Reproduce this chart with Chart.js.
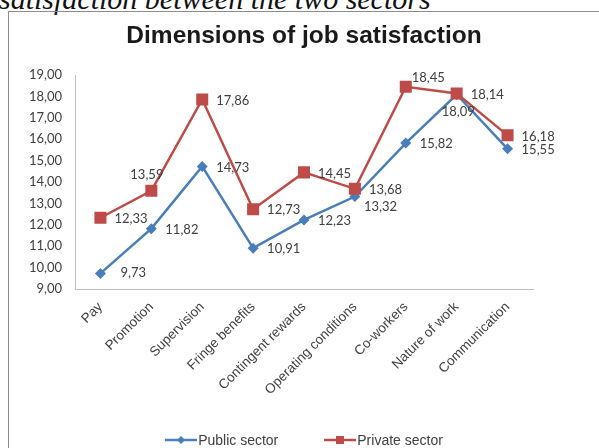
<!DOCTYPE html>
<html>
<head>
<meta charset="utf-8">
<title>Dimensions of job satisfaction</title>
<script src="https://cdn.jsdelivr.net/npm/chart.js@4.4.1/dist/chart.umd.min.js"></script>
<style>
    html, body { margin: 0; padding: 0; background: #fff; overflow: hidden; }
    body { width: 599px; height: 448px; position: relative; }
    .caption {
        position: absolute; left: -1px; top: -16px;
        font: italic 30px/30px 'Liberation Serif', 'Times New Roman', serif;
        color: #111; white-space: nowrap;
    }
    .frame {
        position: absolute; left: 8px; top: 11px; width: 620px; height: 460px;
        border-left: 1px solid #8c8c8c; border-top: 1px solid #8c8c8c;
    }
    #chart { position: absolute; left: 9px; top: 12px; }
    #legend {
        position: absolute; left: 9px; width: 590px; top: 431px; height: 18px;
        display: flex; justify-content: center; align-items: center;
        font: 14px/18px 'Liberation Sans', Arial, sans-serif; color: #404040;
    }
    #legend .item { display: flex; align-items: center; margin: 0 23px; white-space: nowrap; }
    #legend canvas { margin-right: 1px; }
</style>
</head>
<body>
<div class="caption">satisfaction between the two sectors</div>
<div class="frame"></div>
<canvas id="chart" width="590" height="436"></canvas>
<div id="legend"></div>

<script>
// values
const categories = ["Pay", "Promotion", "Supervision", "Fringe benefits", "Contingent rewards",
    "Operating conditions", "Co-workers", "Nature of work", "Communication"];
const publicSector = [9.73, 11.82, 14.73, 10.91, 12.23, 13.32, 15.82, 18.09, 15.55];
const privateSector = [12.33, 13.59, 17.86, 12.73, 14.45, 13.68, 18.45, 18.14, 16.18];
const yTicks = [9, 10, 11, 12, 13, 14, 15, 16, 17, 18, 19];

const blue = '#4a7ebb';
const red = '#be4b48';

// where a value label sits away from its default spot (right of the point)
const publicNudge = { 0: [20, -1], 5: [9, 10], 7: [-15, 17] };
const privateNudge = { 1: [-21, -16], 6: [6, -9] };

function fmt(v) {
    return v.toFixed(2).replace('.', ',');
}

function legendIcon(color, shape) {
    let c = document.createElement('canvas');
    c.width = 32;
    c.height = 12;
    let ctx = c.getContext('2d');
    ctx.strokeStyle = color;
    ctx.fillStyle = color;
    ctx.lineWidth = 2.5;
    ctx.beginPath();
    ctx.moveTo(0, 6);
    ctx.lineTo(32, 6);
    ctx.stroke();
    if (shape === 'rectRot') {
        ctx.beginPath();
        ctx.moveTo(16, 2);
        ctx.lineTo(20, 6);
        ctx.lineTo(16, 10);
        ctx.lineTo(12, 6);
        ctx.closePath();
        ctx.fill();
    } else {
        ctx.fillRect(12, 2, 8, 8);
    }
    return c;
}

const valueLabels = {
    id: 'valueLabels',
    afterDatasetsDraw: function (chart) {
        let ctx = chart.ctx;
        ctx.save();
        ctx.font = "13px Lato, 'Open Sans', sans-serif";
        ctx.fillStyle = '#404040';
        ctx.textAlign = 'left';
        ctx.textBaseline = 'middle';
        chart.data.datasets.forEach(function (ds, i) {
            let meta = chart.getDatasetMeta(i);
            let nudge = ds.nudge || {};
            meta.data.forEach(function (pt, j) {
                let off = nudge[j] || [14, 1];
                ctx.fillText(fmt(ds.data[j]), pt.x + off[0], pt.y + off[1]);
            });
        });
        ctx.restore();
    }
};

Chart.defaults.font.family = "'Liberation Sans', Arial, sans-serif";
Chart.defaults.color = '#404040';

let chartJob = new Chart(document.getElementById('chart'), {
    type: 'line',
    data: {
        labels: categories,
        datasets: [
            {
                label: 'Public sector',
                data: publicSector,
                borderColor: blue,
                backgroundColor: blue,
                borderWidth: 2.5,
                pointStyle: 'rectRot',
                pointRadius: 5.5,
                pointBorderWidth: 0,
                order: 1,
                nudge: publicNudge
            },
            {
                label: 'Private sector',
                data: privateSector,
                borderColor: red,
                backgroundColor: red,
                borderWidth: 2.5,
                pointStyle: 'rect',
                pointRadius: 8.5,
                pointBorderWidth: 0,
                order: 0,
                nudge: privateNudge
            }
        ]
    },
    options: {
        responsive: false,
        animation: false,
        layout: { padding: 0 },
        plugins: {
            tooltip: { enabled: false },
            legend: { display: false },
            title: {
                display: true,
                text: 'Dimensions of job satisfaction',
                color: '#1a1a1a',
                font: { size: 24.5, weight: 'bold' },
                padding: { top: 10, bottom: 23.6 }
            }
        },
        scales: {
            x: {
                offset: true,
                grid: { display: false, drawTicks: false },
                border: { display: true, color: '#bfbfbf', width: 1 },
                ticks: {
                    minRotation: 45,
                    maxRotation: 45,
                    autoSkip: false,
                    padding: 10,
                    font: { size: 13.5 },
                    color: '#404040'
                },
                afterFit: function (scale) {
                    scale.height = 159;
                }
            },
            y: {
                min: 9,
                max: 19,
                grid: { display: false, drawTicks: false },
                border: { display: true, color: '#bfbfbf', width: 1 },
                afterBuildTicks: function (scale) {
                    scale.ticks = yTicks.map(function (v) { return { value: v }; });
                },
                ticks: {
                    autoSkip: false,
                    padding: 13,
                    font: { size: 13, family: "Lato, 'Open Sans', sans-serif" },
                    color: '#404040',
                    callback: function (v) { return fmt(v); }
                },
                afterFit: function (scale) {
                    scale.width = 66;
                }
            },
            // empty right-hand axis, only keeps the plot clear of the right edge
            yRight: {
                type: 'linear',
                position: 'right',
                grid: { display: false, drawTicks: false },
                border: { display: false },
                ticks: { display: false },
                afterFit: function (scale) {
                    scale.width = 66;
                }
            }
        }
    },
    plugins: [valueLabels]
});

// legend under the chart, built from the datasets
function buildLegend(chart) {
    let box = document.getElementById('legend');
    chart.data.datasets.forEach(function (ds) {
        let item = document.createElement('span');
        item.className = 'item';
        item.appendChild(legendIcon(ds.borderColor, ds.pointStyle));
        let txt = document.createElement('span');
        txt.textContent = ds.label;
        item.appendChild(txt);
        box.appendChild(item);
    });
}
buildLegend(chartJob);
</script>
</body>
</html>
